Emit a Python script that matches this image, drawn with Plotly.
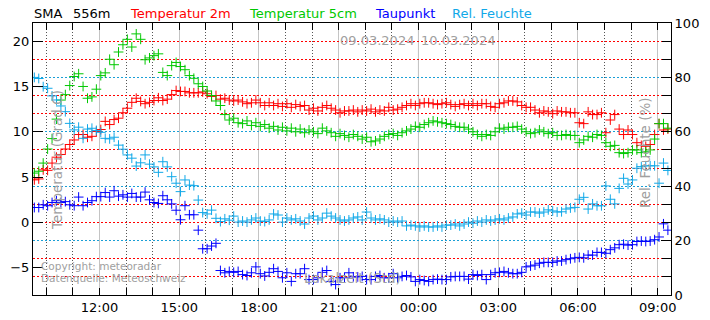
import pandas as pd
import plotly.graph_objects as go

# ---------------- data (10-minute values) ----------------
times = pd.date_range("2024-03-09 09:33", periods=144, freq="10min")

temp_2m = [
    4.7, 4.8, 5.8, 5.75, 6.55, 7.2, 7.5, 8.1, 8.6, 9.1,
    9.7, 9.7, 9.4, 9.5, 10.05, 10.25, 11.15, 10.8, 11.35, 11.5,
    12.1, 12.6, 13.25, 13.7, 13.35, 13.1, 13.25, 13.45, 13.75, 13.45,
    13.6, 14.1, 14.55, 14.45, 14.45, 14.3, 14.3, 14.3, 14.4, 14.2,
    13.9, 14.0, 13.6, 13.7, 13.5, 13.4, 13.5, 13.3, 13.1, 13.2,
    13.5, 13.2, 12.9, 13.2, 12.9, 13.1, 12.8, 13.1, 12.7, 13.0,
    12.8, 12.9, 12.4, 12.6, 12.3, 12.7, 12.9, 12.6, 12.4, 12.1,
    12.3, 12.3, 12.4, 12.2, 12.4, 12.3, 12.5, 12.2, 12.4, 12.3,
    12.7, 12.4, 12.5, 12.7, 12.9, 13.1, 12.9, 13.1, 13.2, 13.2,
    13.1, 13.0, 13.1, 13.2, 13.0, 12.8, 13.0, 13.1, 12.9, 13.1,
    12.9, 13.1, 13.1, 12.8, 12.7, 13.1, 13.2, 13.4, 13.4, 13.3,
    12.9, 12.7, 12.7, 12.4, 12.1, 12.3, 12.2, 12.0, 12.3, 12.2,
    12.2, 12.1, 12.1, 11.0, 10.9, 12.2, 11.9, 11.9, 12.1, 9.9,
    11.3, 11.9, 10.3, 9.7, 10.2, 9.7, 8.8, 8.5, 8.4, 8.6,
    9.7, 10.9, 10.2, 10.3,
]

temp_5cm = [
    5.45, 5.65, 6.55, 8.1, 9.25, 11.4, 13.5, 14.1, 15.1, 16.1,
    16.4, 15.0, 13.7, 13.85, 14.7, 16.2, 16.5, 18.0, 17.4, 18.8,
    19.6, 20.2, 19.35, 20.8, 20.2, 17.95, 18.15, 18.4, 18.6, 16.55,
    16.2, 17.3, 17.65, 17.2, 16.85, 16.2, 15.9, 15.3, 15.0, 14.5,
    14.0, 13.4, 12.9, 11.9, 11.3, 11.5, 11.0, 10.9, 11.2, 10.7,
    11.0, 10.6, 10.8, 10.4, 10.6, 10.2, 10.5, 10.1, 10.4, 10.0,
    10.3, 9.9, 10.2, 10.0, 9.8, 10.4, 10.1, 9.9, 9.5, 9.8,
    9.6, 9.4, 9.7, 9.5, 9.2, 9.4, 8.9, 9.0, 9.2, 9.5,
    9.7, 9.8, 9.6, 9.9, 10.1, 10.3, 10.6, 10.5, 10.8, 11.0,
    11.2, 11.1, 11.0, 10.9, 10.8, 10.6, 10.5, 10.5, 10.3, 10.0,
    9.7, 9.5, 9.7, 9.6, 10.0, 10.4, 10.3, 10.5, 10.5, 10.6,
    10.3, 10.0, 9.8, 9.9, 10.2, 10.0, 9.8, 9.9, 9.6, 9.6,
    9.7, 9.6, 9.6, 8.8, 9.1, 9.5, 9.4, 9.7, 9.6, 8.8,
    8.4, 8.5, 7.7, 7.6, 7.7, 8.0, 8.0, 7.7, 7.8, 8.0,
    9.2, 10.9, 10.9, 10.4,
]

taupunkt = [
    1.65, 1.65, 1.95, 1.85, 2.2, 2.4, 2.2, 2.3, 1.95, 1.85,
    2.8, 1.85, 2.2, 2.4, 2.85, 2.85, 3.3, 2.8, 3.5, 2.9,
    3.05, 2.8, 3.2, 2.8, 2.8, 3.35, 2.5, 2.2, 2.1, 2.95,
    2.5, 2.05, 1.35, 0.3, 1.85, 0.85, 0.85, -0.85, -2.9, -2.9,
    -2.6, -2.3, -5.3, -5.55, -5.4, -5.5, -5.4, -5.75, -5.85, -5.55,
    -4.9, -5.65, -5.9, -5.5, -5.1, -5.4, -6.1, -5.55, -6.5, -5.65,
    -5.65, -5.1, -6.3, -6.3, -6.1, -5.5, -5.3, -6.5, -6.85, -6.1,
    -6.1, -5.55, -6.0, -6.0, -5.95, -6.3, -6.3, -5.95, -5.85, -6.1,
    -6.1, -5.65, -6.1, -5.95, -5.85, -6.0, -6.5, -6.3, -6.4, -6.5,
    -6.3, -6.25, -6.3, -6.3, -6.0, -5.95, -5.95, -5.95, -6.25, -5.75,
    -5.85, -5.75, -6.3, -5.75, -5.55, -5.5, -5.4, -5.55, -5.65, -5.65,
    -5.5, -4.9, -4.8, -4.7, -4.5, -4.4, -4.4, -4.4, -4.25, -4.25,
    -4.1, -4.0, -3.9, -3.85, -3.9, -3.6, -3.6, -3.3, -3.3, -3.4,
    -3.0, -2.8, -2.45, -2.4, -2.5, -2.45, -2.1, -2.05, -2.1, -2.05,
    -1.9, -1.6, -0.15, -0.85,
]

rel_feuchte = [
    80.0, 79.6, 76.6, 76.0, 73.2, 71.7, 69.5, 67.4, 63.1, 60.7,
    61.7, 57.6, 61.0, 61.3, 60.5, 59.8, 57.6, 57.4, 58.0, 55.1,
    53.6, 51.5, 50.3, 47.4, 48.6, 51.5, 48.1, 47.1, 45.1, 49.0,
    47.1, 43.5, 41.1, 38.0, 42.3, 40.4, 40.2, 34.9, 30.3, 29.8,
    31.2, 28.2, 27.0, 28.0, 27.5, 29.0, 26.8, 27.2, 26.8, 27.6,
    28.3, 27.2, 27.0, 27.6, 29.8, 29.4, 26.8, 28.3, 27.6, 28.0,
    27.2, 26.1, 28.3, 29.0, 27.6, 28.3, 30.1, 29.0, 28.3, 27.6,
    27.2, 27.6, 28.3, 28.7, 27.6, 30.5, 28.3, 27.6, 28.0, 27.6,
    26.8, 27.2, 26.8, 27.2, 25.4, 25.7, 25.4, 25.0, 25.4, 25.0,
    25.0, 25.4, 25.0, 25.7, 25.7, 26.1, 25.4, 26.1, 26.8, 26.4,
    27.2, 26.8, 27.6, 27.2, 27.6, 28.0, 27.6, 28.3, 28.7, 29.8,
    30.1, 29.4, 30.5, 30.5, 30.1, 30.5, 31.3, 30.9, 30.5, 30.6,
    31.6, 32.0, 32.2, 35.2, 35.9, 31.6, 33.5, 32.8, 32.8, 40.1,
    35.2, 33.5, 39.2, 42.9, 40.8, 42.3, 46.6, 47.2, 47.5, 47.5,
    47.5, 41.1, 48.5, 45.8,
]

temp_grid_vals = [-6, -4, 0, 2, 6, 8, 12, 14, 18, 20]

# ---------------- layout helpers ----------------
W, H = 710, 320
ML, MR, MT, MB = 33, 39, 23, 25
PW, PH = W - ML - MR, H - MT - MB
FONT = "DejaVu Sans"
GRAY = "#a0a0a0"


def px(x):
    return (x - ML) / PW


def py(y):
    return (H - MB - y) / PH


C_RED, C_GREEN, C_BLUE, C_CYAN = "#ff0000", "#00c800", "#0000ff", "#10a8e8"

fig = go.Figure()


def add_series(vals, color, axis):
    fig.add_trace(go.Scatter(
        x=times, y=vals, mode="markers", yaxis=axis, showlegend=False,
        hoverinfo="skip",
        marker=dict(symbol="cross-thin", size=7, color=color,
                    line=dict(width=1, color=color)),
    ))


# empty trace so the grid-only axis exists
fig.add_trace(go.Scatter(x=[], y=[], yaxis="y3", showlegend=False,
                         hoverinfo="skip"))
add_series(temp_2m, C_RED, "y")
add_series(temp_5cm, C_GREEN, "y")
add_series(taupunkt, C_BLUE, "y")
add_series(rel_feuchte, C_CYAN, "y2")

tickfont = dict(family=FONT, size=13, color="black")

fig.update_layout(
    template="none",
    width=W, height=H,
    margin=dict(l=ML, r=MR, t=MT, b=MB, pad=0),
    paper_bgcolor="white", plot_bgcolor="white",
    font=dict(family=FONT, size=13, color="black"),
    showlegend=False,
    hovermode=False,
    xaxis=dict(
        range=["2024-03-09 09:30", "2024-03-10 09:30"], automargin=False,
        tick0="2024-03-09 00:00", dtick=3 * 3600000, tickformat="%H:%M",
        ticks="inside", ticklen=7, tickcolor="black", tickwidth=1,
        showline=True, linecolor="black", linewidth=1, mirror="ticks",
        showgrid=True, gridcolor="#c4c4c4", gridwidth=1, zeroline=False,
        tickfont=tickfont,
        minor=dict(dtick=3600000, ticks="inside", ticklen=7,
                   tickcolor="black", tickwidth=1, showgrid=True,
                   gridcolor="#555555", griddash="1px,2px", gridwidth=1),
    ),
    yaxis=dict(
        range=[-8, 22], tick0=0, dtick=5, ticks="inside", ticklen=10,
        automargin=False,
        tickcolor="black", showline=True, linecolor="black", linewidth=1,
        showgrid=False, zeroline=False, tickfont=tickfont,
    ),
    yaxis2=dict(
        range=[0, 100], tick0=0, dtick=20, overlaying="y", side="right",
        automargin=False,
        ticks="inside", ticklen=10, tickcolor="black", showline=True,
        linecolor="black", linewidth=1, showgrid=True, gridcolor="#1a9fd6",
        griddash="2px,2px", gridwidth=1, zeroline=False, tickfont=tickfont,
        minor=dict(tick0=0, dtick=20 / 3, ticks="inside", ticklen=9,
                   tickcolor="black", showgrid=False),
    ),
    yaxis3=dict(
        range=[-8, 22], overlaying="y", side="left", tickvals=temp_grid_vals,
        automargin=False,
        showticklabels=False, ticks="", showline=False, zeroline=False,
        showgrid=True, gridcolor="#ff0000", griddash="2px,2px", gridwidth=1,
    ),
)

fig.add_vline(x="2024-03-10 00:00", line_color="#8c8c8c", line_width=1,
              layer="below")

ann = []


def text(t, x, y, color, size=13, xanchor="left", angle=0):
    ann.append(dict(text=t, x=px(x), y=py(y), xref="paper", yref="paper",
                    xanchor=xanchor, yanchor="middle", showarrow=False,
                    textangle=angle,
                    font=dict(family=FONT, size=size, color=color)))


# header
text("SMA", 32, 14, "black")
text("556m", 71, 14, "black")
text("Temperatur 2m", 128, 14, C_RED)
text("Temperatur 5cm", 247, 14, C_GREEN)
text("Taupunkt", 373, 14, C_BLUE)
text("Rel. Feuchte", 450, 14, C_CYAN)

# in-plot gray texts
text("Temperatur (Grad C)", 57, 160, GRAY, size=13.5, xanchor="center", angle=-90)
text("Rel. Feuchte (%)", 645, 153, GRAY, size=13.5, xanchor="center", angle=-90)
text("Lokalzeit (Std)", 352, 278, GRAY, size=13.5, xanchor="center")
text("09.03.2024", 377, 40, GRAY, xanchor="center")
text("10.03.2024", 458, 40, GRAY, xanchor="center")
text("Copyright: meteoradar", 39, 266, GRAY, size=10.5)
text("Datenquelle: Meteoschweiz", 39, 278, GRAY, size=10.5)

fig.update_layout(annotations=ann)

fig.write_html(
    "out.html",
    config={"displayModeBar": False, "staticPlot": True},
    post_script="document.body.style.margin='0';document.body.style.overflow='hidden';",
)
